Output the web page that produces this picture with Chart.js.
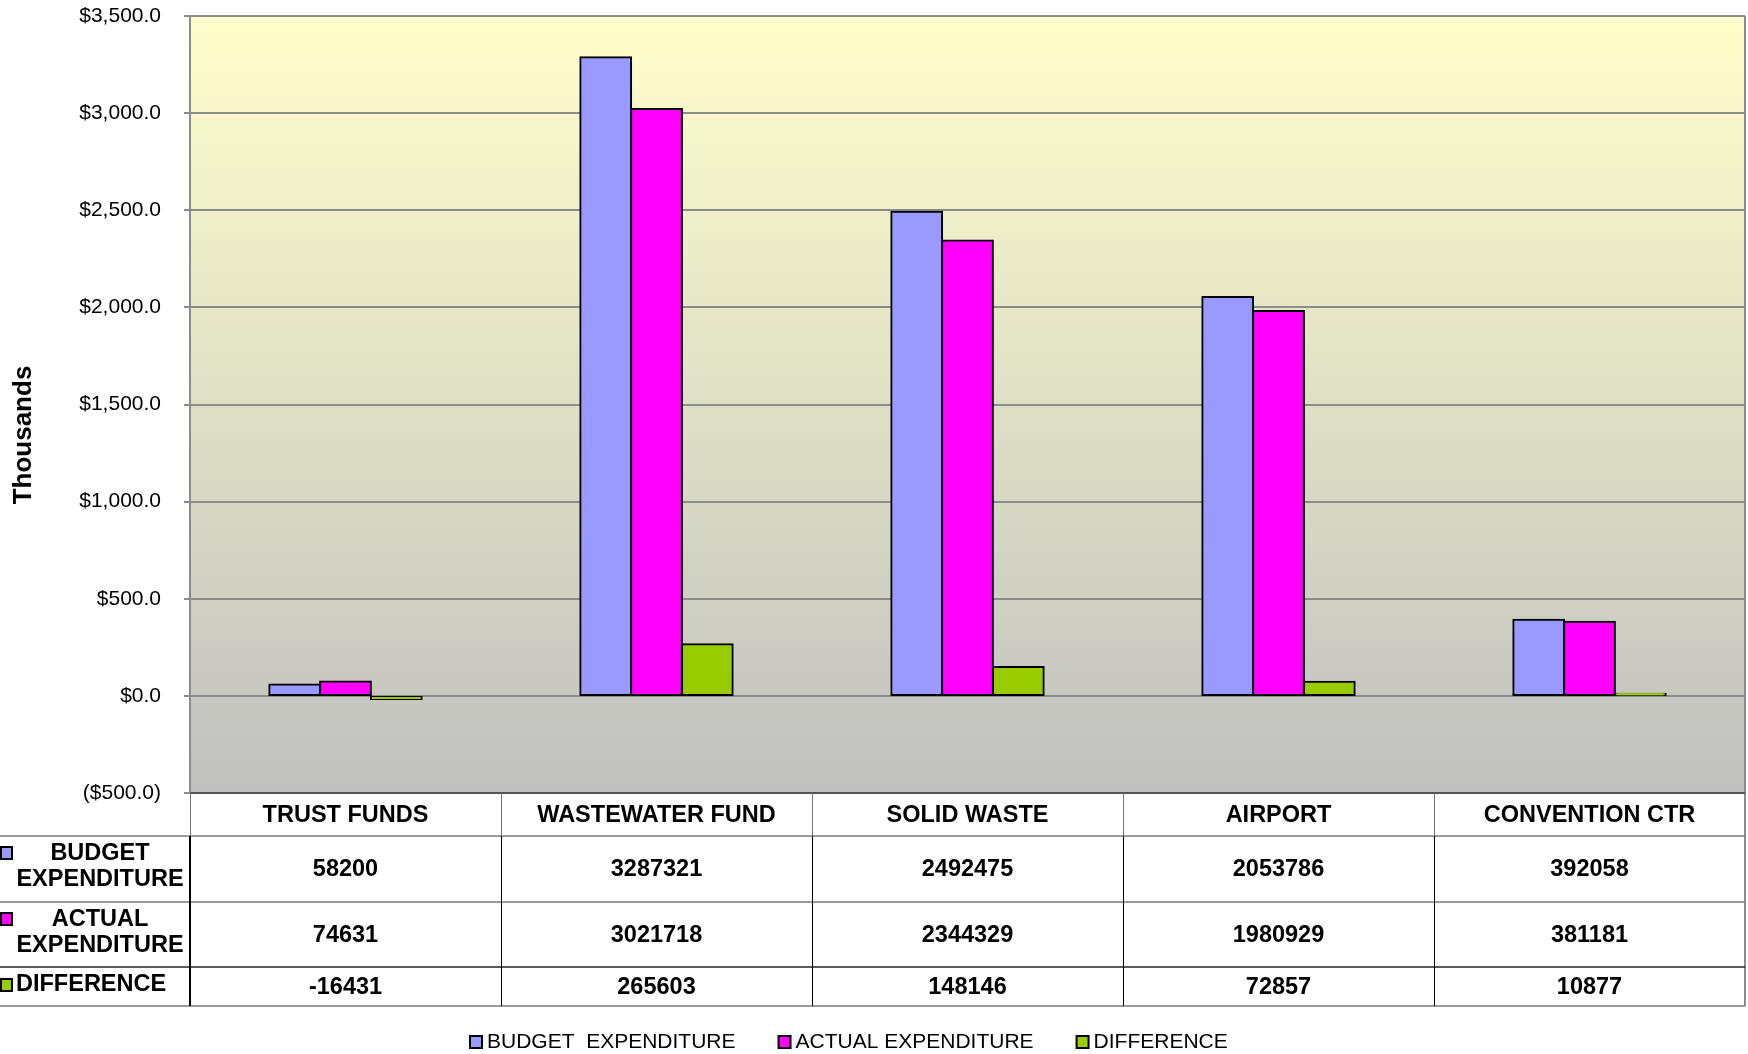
<!DOCTYPE html>
<html lang="en">

<head>
    <meta charset="UTF-8">
    <title>Enterprise Funds - Budget vs Actual</title>
    <script src="https://cdn.jsdelivr.net/npm/chart.js"></script>
    <style>
        html, body { margin: 0; padding: 0; background: #fff; }
        #grafico { display: block; }
    </style>
</head>

<body>
    <canvas id="grafico" width="1748" height="1054"></canvas>

    <script>
        // fund categories and the three series (dollars)
        var fundos = ['TRUST FUNDS', 'WASTEWATER FUND', 'SOLID WASTE', 'AIRPORT', 'CONVENTION CTR']
        var orcado = [58200, 3287321, 2492475, 2053786, 392058]
        var realizado = [74631, 3021718, 2344329, 1980929, 381181]
        var diferenca = [-16431, 265603, 148146, 72857, 10877]

        var nomesSeries = ['BUDGET  EXPENDITURE', 'ACTUAL EXPENDITURE', 'DIFFERENCE']
        var rotulosTabela = [['BUDGET', 'EXPENDITURE'], ['ACTUAL', 'EXPENDITURE'], ['DIFFERENCE']]
        var cores = ['#9999FF', '#FF00FF', '#99CC00']

        var fonte = '"Liberation Sans", Arial, sans-serif'

        function emMilhares(lista) {
            return lista.map(v => v / 1000)
        }

        function formatarMoeda(v) {
            var txt = Math.abs(v).toLocaleString('en-US', { minimumFractionDigits: 1, maximumFractionDigits: 1 })
            return v < 0 ? '($' + txt + ')' : '$' + txt
        }

        // gradient behind the plot
        const fundoPlot = {
            id: 'fundoPlot',
            beforeDraw(chart) {
                const { ctx, chartArea: a } = chart
                const g = ctx.createLinearGradient(0, a.top, 0, a.bottom)
                g.addColorStop(0, '#FFFFCC')
                g.addColorStop(1, '#C0C0C0')
                ctx.save()
                ctx.fillStyle = g
                ctx.fillRect(a.left, a.top, a.right - a.left, a.bottom - a.top)
                ctx.restore()
            }
        }

        // y title, data table under the plot and the bottom legend
        const tabela = {
            id: 'tabela',
            afterDraw(chart) {
                const { ctx, chartArea: a } = chart
                const xs = chart.scales.x
                const passo = xs.getPixelForValue(1) - xs.getPixelForValue(0)
                const linhas = [a.bottom, 836, 902, 967, 1006]
                const series = [orcado, realizado, diferenca]

                ctx.save()

                // axis title
                ctx.save()
                ctx.translate(24, 435)
                ctx.rotate(-Math.PI / 2)
                ctx.font = 'bold 26px ' + fonte
                ctx.fillStyle = '#000'
                ctx.textAlign = 'center'
                ctx.textBaseline = 'middle'
                ctx.fillText('Thousands', 0, 0)
                ctx.restore()

                // frame on the right side of plot and table
                ctx.strokeStyle = '#8c8c8c'
                ctx.lineWidth = 2
                ctx.beginPath()
                ctx.moveTo(a.right, a.top)
                ctx.lineTo(a.right, linhas[4])
                ctx.stroke()

                // horizontal rules
                const coresLinha = ['#555', '#7a7a7a', '#7a7a7a', '#222', '#7a7a7a']
                linhas.forEach((y, i) => {
                    ctx.strokeStyle = coresLinha[i]
                    ctx.lineWidth = i == 0 ? 2 : 1.5
                    ctx.beginPath()
                    ctx.moveTo(i == 0 ? a.left : 0, y)
                    ctx.lineTo(a.right, y)
                    ctx.stroke()
                })

                // vertical rules between categories
                for (let k = 0; k < fundos.length; k++) {
                    const x = Math.round(xs.getPixelForValue(k) - passo / 2)
                    ctx.strokeStyle = '#777'
                    ctx.lineWidth = 1
                    ctx.beginPath()
                    ctx.moveTo(x + 0.5, linhas[0])
                    ctx.lineTo(x + 0.5, linhas[1])
                    ctx.stroke()
                    ctx.strokeStyle = '#000'
                    ctx.lineWidth = k == 0 ? 2 : 1
                    ctx.beginPath()
                    ctx.moveTo(x + (k == 0 ? 0 : 0.5), linhas[1])
                    ctx.lineTo(x + (k == 0 ? 0 : 0.5), linhas[4])
                    ctx.stroke()
                }

                ctx.fillStyle = '#000'
                ctx.font = 'bold 23.5px ' + fonte
                ctx.textAlign = 'center'
                ctx.textBaseline = 'middle'

                // header with the category names
                fundos.forEach((f, i) => {
                    ctx.fillText(f, xs.getPixelForValue(i), (linhas[0] + linhas[1]) / 2 + 1)
                })

                // values
                series.forEach((s, r) => {
                    const yc = (linhas[r + 1] + linhas[r + 2]) / 2 + 1
                    s.forEach((v, i) => {
                        ctx.fillText(String(v), xs.getPixelForValue(i), yc)
                    })
                })

                // row labels with legend keys
                const yChave = [853, 919, 985]
                rotulosTabela.forEach((rot, r) => {
                    ctx.fillStyle = cores[r]
                    ctx.fillRect(1, yChave[r] - 6, 11, 12)
                    ctx.strokeStyle = '#000'
                    ctx.lineWidth = 2
                    ctx.strokeRect(1, yChave[r] - 6, 11, 12)
                    ctx.fillStyle = '#000'
                    if (rot.length == 2) {
                        ctx.textAlign = 'center'
                        ctx.fillText(rot[0], 100, yChave[r] + 1)
                        ctx.fillText(rot[1], 100, yChave[r] + 27)
                    } else {
                        ctx.textAlign = 'left'
                        ctx.fillText(rot[0], 16, yChave[r])
                    }
                })

                // bottom legend
                ctx.font = '21px ' + fonte
                ctx.textAlign = 'left'
                let x = 470
                const yl = 1042
                nomesSeries.forEach((n, i) => {
                    ctx.fillStyle = cores[i]
                    ctx.fillRect(x, yl - 6, 12, 12)
                    ctx.strokeStyle = '#000'
                    ctx.lineWidth = 2
                    ctx.strokeRect(x, yl - 6, 12, 12)
                    ctx.fillStyle = '#000'
                    ctx.fillText(n, x + 17, yl)
                    x += 17 + ctx.measureText(n).width + 43
                })

                ctx.restore()
            }
        }

        const ctx1 = document.getElementById('grafico')

        new Chart(ctx1, {
            type: 'bar',
            data: {
                labels: fundos,
                datasets: [orcado, realizado, diferenca].map((s, i) => ({
                    label: nomesSeries[i],
                    data: emMilhares(s),
                    backgroundColor: cores[i],
                    borderColor: '#000',
                    borderWidth: 2,
                    inflateAmount: 1,
                    borderSkipped: false,
                    categoryPercentage: 0.49,
                    barPercentage: 1
                }))
            },
            options: {
                responsive: false,
                animation: false,
                layout: { padding: { left: 0, top: 16, right: 3, bottom: 261 } },
                plugins: {
                    legend: { display: false },
                    tooltip: { enabled: false }
                },
                scales: {
                    x: { display: false },
                    y: {
                        min: -500,
                        max: 3500,
                        afterFit(scale) {
                            scale.width = 190
                            scale.paddingTop = 0
                            scale.paddingBottom = 0
                        },
                        ticks: {
                            stepSize: 500,
                            color: '#000',
                            padding: 23,
                            font: { family: fonte, size: 21 },
                            callback: v => formatarMoeda(v)
                        },
                        grid: { color: '#8c8c8c', lineWidth: 2, tickLength: 6 },
                        border: { color: '#8c8c8c', width: 2 }
                    }
                }
            },
            plugins: [fundoPlot, tabela]
        })
    </script>
</body>

</html>
